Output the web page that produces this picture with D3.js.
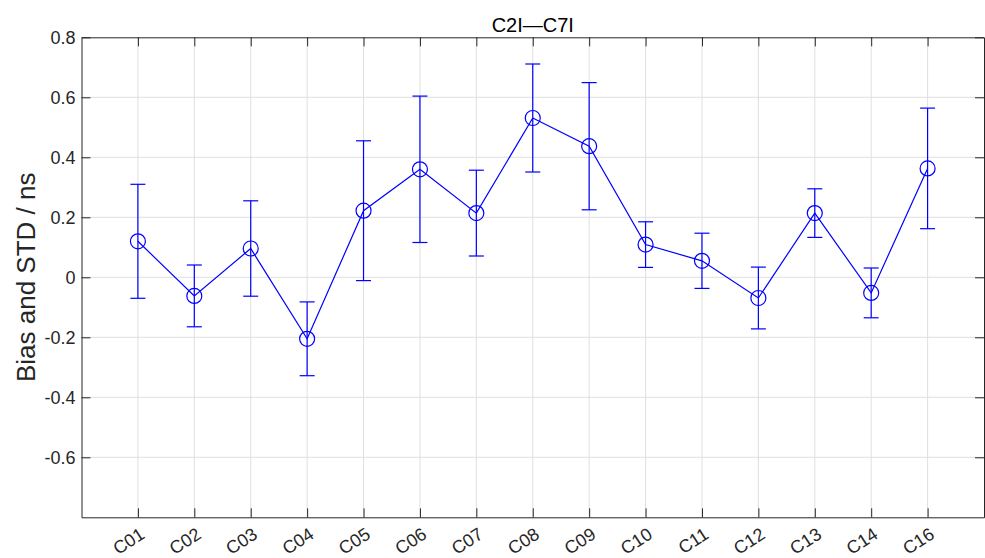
<!DOCTYPE html>
<html lang="en">
<head>
<meta charset="UTF-8">
<title>C2I-C7I</title>
<script src="https://d3js.org/d3.v7.min.js"></script>
<style>
  body { margin: 0; background: #fff; }
  svg { display: block; font-family: "Liberation Sans", Arial, Helvetica, sans-serif; }
</style>
</head>
<body>
<svg id="chart" width="985" height="558"></svg>
<script>
// satellites on the x axis
var categories = ["C01","C02","C03","C04","C05","C06","C07","C08","C09","C10","C11","C12","C13","C14","C16"];
// bias (marker) and std (error bar half length), ns
var bias = [0.120, -0.062, 0.096, -0.205, 0.222, 0.360, 0.214, 0.531, 0.437, 0.109, 0.055, -0.069, 0.214, -0.052, 0.363];
var stdv = [0.190, 0.103, 0.159, 0.123, 0.233, 0.244, 0.143, 0.180, 0.212, 0.076, 0.092, 0.103, 0.081, 0.083, 0.201];
var yTicks = [-0.6, -0.4, -0.2, 0, 0.2, 0.4, 0.6, 0.8];
var yGrid = [-0.6, -0.4, -0.2, 0, 0.2, 0.4, 0.6];
var title = "C2I\u2014C7I";
var yLabel = "Bias and STD / ns";

function draw() {
  var pL = 81.5, pR = 984, pT = 37.3, pB = 517.3;
  var axisColor = "#262626", gridColor = "#dfdfdf", lineColor = "#0000ff";
  var tickLen = 9;

  var svg = d3.select("#chart");

  var x = d3.scaleLinear().domain([0, categories.length + 1]).range([pL, pR]);
  var y = d3.scaleLinear().domain([-0.8, 0.8]).range([pB, pT]);
  var idx = d3.range(1, categories.length + 1);

  // grid
  svg.append("g").selectAll("line").data(idx).enter().append("line")
    .attr("x1", function(d){ return x(d); }).attr("x2", function(d){ return x(d); })
    .attr("y1", pT).attr("y2", pB)
    .attr("stroke", gridColor).attr("stroke-width", 1);
  svg.append("g").selectAll("line").data(yGrid).enter().append("line")
    .attr("x1", pL).attr("x2", pR)
    .attr("y1", function(d){ return y(d); }).attr("y2", function(d){ return y(d); })
    .attr("stroke", gridColor).attr("stroke-width", 1);

  // axes, ticks inward on all four sides
  var xb = svg.append("g").attr("transform", "translate(0," + pB + ")")
    .call(d3.axisBottom(x).tickValues(idx).tickSizeInner(-tickLen).tickSizeOuter(0).tickFormat(""));
  var xt = svg.append("g").attr("transform", "translate(0," + pT + ")")
    .call(d3.axisTop(x).tickValues(idx).tickSizeInner(-tickLen).tickSizeOuter(0).tickFormat(""));
  var yl = svg.append("g").attr("transform", "translate(" + pL + ",0)")
    .call(d3.axisLeft(y).tickValues(yTicks).tickSizeInner(-tickLen).tickSizeOuter(0).tickFormat(""));
  var yr = svg.append("g").attr("transform", "translate(" + pR + ",0)")
    .call(d3.axisRight(y).tickValues(yTicks).tickSizeInner(-tickLen).tickSizeOuter(0).tickFormat(""));
  [xb, xt, yl, yr].forEach(function(g){
    g.selectAll("path").attr("stroke", axisColor);
    g.selectAll("line").attr("stroke", axisColor);
  });

  // tick labels (plain hyphen for minus, like the original)
  svg.append("g").selectAll("text").data(yTicks).enter().append("text")
    .attr("x", pL - 6).attr("y", function(d){ return y(d); })
    .attr("dy", "0.36em").attr("text-anchor", "end")
    .attr("font-size", 18).attr("fill", axisColor)
    .text(function(d){ return d === 0 ? "0" : d.toFixed(1); });

  svg.append("g").selectAll("text").data(categories).enter().append("text")
    .attr("transform", function(d, i){ return "translate(" + (x(i + 1) + 8) + "," + (pB + 20) + ") rotate(-33)"; })
    .attr("text-anchor", "end")
    .attr("font-size", 18).attr("fill", axisColor)
    .text(function(d){ return d; });

  // title and y label
  svg.append("text").attr("x", (pL + pR) / 2).attr("y", 31.5)
    .attr("text-anchor", "middle").attr("font-size", 20).attr("fill", "#000")
    .text(title);
  svg.append("text").attr("transform", "translate(35," + ((pT + pB) / 2) + ") rotate(-90)")
    .attr("text-anchor", "middle").attr("font-size", 26).attr("fill", axisColor)
    .text(yLabel);

  // error bars
  var eb = svg.append("g").attr("stroke", lineColor).attr("stroke-width", 1.2).attr("fill", "none");
  var capW = 7.5;
  bias.forEach(function(b, i){
    var cx = x(i + 1), hi = y(b + stdv[i]), lo = y(b - stdv[i]);
    eb.append("line").attr("x1", cx).attr("x2", cx).attr("y1", hi).attr("y2", lo);
    eb.append("line").attr("x1", cx - capW).attr("x2", cx + capW).attr("y1", hi).attr("y2", hi);
    eb.append("line").attr("x1", cx - capW).attr("x2", cx + capW).attr("y1", lo).attr("y2", lo);
  });

  // connecting line and circle markers
  var line = d3.line().x(function(d, i){ return x(i + 1); }).y(function(d){ return y(d); });
  svg.append("path").datum(bias).attr("d", line)
    .attr("fill", "none").attr("stroke", lineColor).attr("stroke-width", 1.2);
  svg.append("g").selectAll("circle").data(bias).enter().append("circle")
    .attr("cx", function(d, i){ return x(i + 1); }).attr("cy", function(d){ return y(d); })
    .attr("r", 7.5).attr("fill", "none").attr("stroke", lineColor).attr("stroke-width", 1.2);
}

draw();
</script>
</body>
</html>
